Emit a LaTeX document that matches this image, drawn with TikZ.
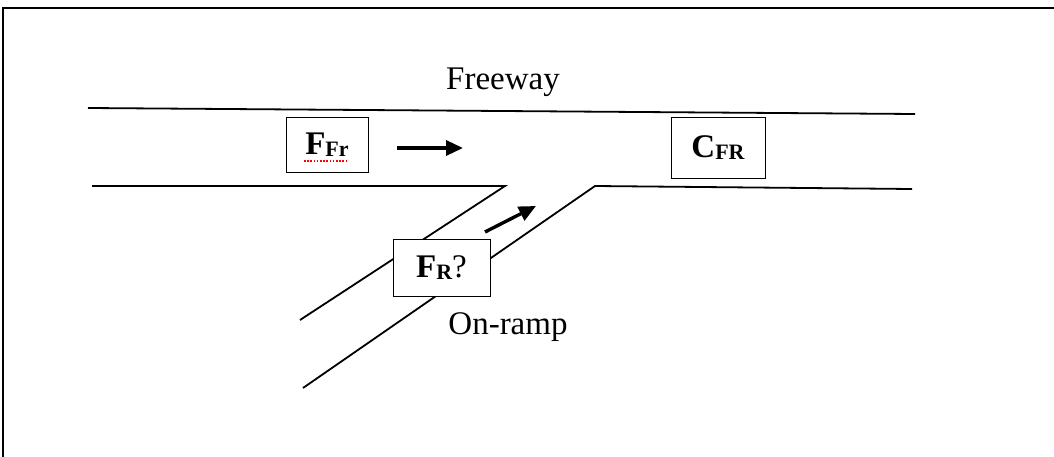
\documentclass[tikz,border=0pt]{standalone}
\usepackage{fontspec}
\setmainfont{Liberation Serif}
\usetikzlibrary{arrows.meta}
\newcommand{\mainsz}{\fontsize{33}{36}\selectfont}
\newcommand{\subsz}{\fontsize{22}{24}\selectfont}
\newcommand{\sbx}[1]{\raisebox{-2.5pt}{\subsz\bfseries #1}}
\begin{document}
\begin{tikzpicture}[x=1pt,y=-1pt,
  road/.style={line width=1.8pt},
  frame/.style={line width=2pt},
  labelbox/.style={draw,fill=white,line width=0.9pt,inner sep=0pt,font=\mainsz},
  flow/.style={line width=3.4pt,-{Triangle[length=17pt,width=15pt]}},
  caption/.style={font=\mainsz,inner sep=0pt}]
\useasboundingbox (0,0) rectangle (1054,457);
% frame (top and left visible)
\coordinate (fTL) at (3,8);
\coordinate (fTR) at (1054,8);
\coordinate (fBL) at (3,457);
\draw[frame] (fTR) -- (fTL) -- (fBL);
% freeway edges
\coordinate (topL) at (88,108);
\coordinate (topR) at (915,114);
\coordinate (lowL) at (92,186);
\coordinate (gore1) at (505,186);
\coordinate (rampUpEnd) at (300,320);
\coordinate (gore2) at (595,186);
\coordinate (lowR) at (912,189);
\coordinate (rampLowEnd) at (303,388);
\draw[road] (topL) -- (topR);
\draw[road] (lowL) -- (gore1) -- (rampUpEnd);
\draw[road] (rampLowEnd) -- (gore2) -- (lowR);
% boxes
\node[labelbox,minimum width=82pt,minimum height=55pt] (ffr) at (327,144.5)
  {\bfseries F\sbx{Fr}};
\draw[red,line width=1.1pt,dash pattern=on 1.6pt off 1.6pt] ([xshift=-23pt,yshift=-16.5pt]ffr.center) -- ([xshift=21pt,yshift=-16.5pt]ffr.center);
\node[labelbox,minimum width=94pt,minimum height=61pt] (cfr) at (718,147.5)
  {\bfseries C\sbx{FR}};
\node[labelbox,minimum width=97pt,minimum height=57pt] (fr) at (441.5,267.5)
  {\textbf{F}\sbx{R}?};
% flow arrows
\coordinate (a1s) at (397,148);
\coordinate (a1e) at (463,148);
\coordinate (a2s) at (485,232);
\coordinate (a2e) at (536,206);
\draw[flow] (a1s) -- (a1e);
\draw[flow] (a2s) -- (a2e);
% captions
\node[caption] (freeway) at (503,82) {Freeway};
\node[caption] (onramp) at (508,327) {On-ramp};
\end{tikzpicture}
\end{document}
